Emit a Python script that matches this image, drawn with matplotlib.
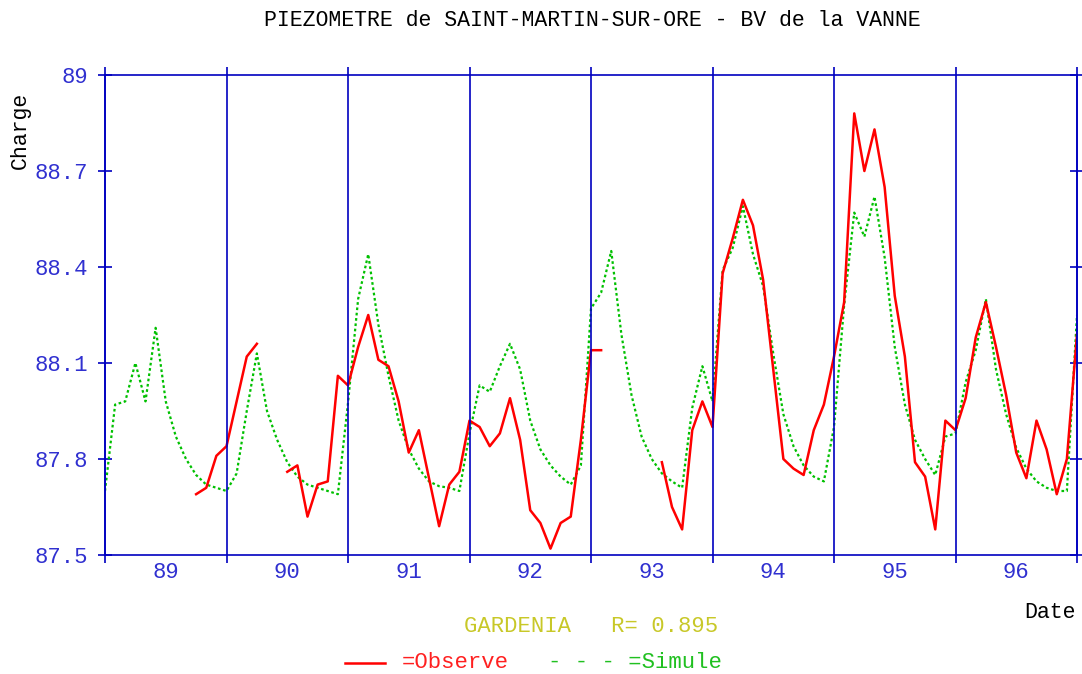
import matplotlib
matplotlib.use("Agg")
import matplotlib.pyplot as plt
import numpy as np

# mensuel, de janvier 89 a janvier 97
annee_debut = 89
observe = [
    np.nan, np.nan, np.nan, np.nan, np.nan, np.nan, np.nan, np.nan, np.nan, 87.69, 87.71, 87.81,
    87.84, 87.98, 88.12, 88.16, np.nan, np.nan, 87.76, 87.78, 87.62, 87.72, 87.73, 88.06,
    88.03, 88.15, 88.25, 88.11, 88.09, 87.98, 87.82, 87.89, 87.74, 87.59, 87.72, 87.76,
    87.92, 87.90, 87.84, 87.88, 87.99, 87.86, 87.64, 87.60, 87.52, 87.60, 87.62, 87.86,
    88.14, 88.14, np.nan, np.nan, np.nan, np.nan, np.nan, 87.79, 87.65, 87.58, 87.89, 87.98,
    87.90, 88.38, 88.49, 88.61, 88.53, 88.36, 88.08, 87.80, 87.77, 87.75, 87.89, 87.97,
    88.12, 88.29, 88.88, 88.70, 88.83, 88.65, 88.31, 88.12, 87.79, 87.745, 87.58, 87.92,
    87.89, 87.99, 88.18, 88.29, 88.15, 88.00, 87.82, 87.74, 87.92, 87.83, 87.69, 87.80,
    88.19,
]
simule = [
    87.70, 87.97, 87.98, 88.10, 87.98, 88.21, 87.98, 87.87, 87.80, 87.75, 87.72, 87.71,
    87.70, 87.755, 87.95, 88.13, 87.95, 87.86, 87.79, 87.745, 87.72, 87.71, 87.70, 87.69,
    87.975, 88.30, 88.44, 88.22, 88.06, 87.92, 87.83, 87.77, 87.73, 87.715, 87.71, 87.70,
    87.88, 88.03, 88.01, 88.09, 88.16, 88.08, 87.92, 87.83, 87.78, 87.745, 87.72, 87.78,
    88.27, 88.32, 88.45, 88.19, 88.00, 87.87, 87.80, 87.755, 87.73, 87.71, 87.96, 88.09,
    87.98, 88.39, 88.46, 88.59, 88.44, 88.34, 88.13, 87.94, 87.84, 87.78, 87.745, 87.73,
    87.90, 88.28, 88.57, 88.495, 88.62, 88.43, 88.15, 87.97, 87.86, 87.80, 87.75, 87.87,
    87.88, 88.04, 88.14, 88.30, 88.08, 87.94, 87.835, 87.77, 87.73, 87.71, 87.70, 87.70,
    88.25,
]
annees = [89, 90, 91, 92, 93, 94, 95, 96]
y_ticks = [87.5, 87.8, 88.1, 88.4, 88.7, 89.0]
y_labels = ["87.5", "87.8", "88.1", "88.4", "88.7", "89"]

police = "Liberation Mono"
bleu = "#0000c0"
bleu_txt = "#3030d0"

t = annee_debut + np.arange(len(simule)) / 12.0

fig = plt.figure(figsize=(10.82, 6.74), dpi=100)
ax = fig.add_axes([105 / 1082, 119 / 674, 972 / 1082, 480 / 674])

ax.plot(t, simule, color="#00c000", linestyle=(0, (1.2, 1.2)), linewidth=1.6)
ax.plot(t, observe, color="#ff0000", linewidth=1.8)

ax.set_xlim(89, 97)
ax.set_ylim(87.5, 89.0)

# traits verticaux aux changements d'annee (depassent un peu le cadre)
ax.vlines(np.arange(89, 98), 87.475, 89.025, colors=bleu, linewidth=1.2, clip_on=False)

for s in ax.spines.values():
    s.set_color(bleu)
    s.set_linewidth(1.2)

ax.set_xticks([a + 0.5 for a in annees])
ax.set_xticklabels([str(a) for a in annees], fontfamily=police, fontsize=16, color=bleu_txt)
ax.tick_params(axis="x", length=0, pad=5)

ax.set_yticks(y_ticks)
ax.set_yticklabels(y_labels, fontfamily=police, fontsize=16, color=bleu_txt)
ax.tick_params(axis="y", direction="inout", length=10, width=1.2, color=bleu,
               right=True, pad=7)

fig.text(592 / 1082, 1 - 20 / 674, "PIEZOMETRE de SAINT-MARTIN-SUR-ORE - BV de la VANNE",
         ha="center", va="center", fontfamily=police, fontsize=15.5, color="black")
fig.text(20 / 1082, 1 - 130 / 674, "Charge", rotation=90, ha="center", va="center",
         fontfamily=police, fontsize=15.5, color="black")
fig.text(1050 / 1082, 1 - 613 / 674, "Date", ha="center", va="center",
         fontfamily=police, fontsize=15.5, color="black")
fig.text(591 / 1082, 1 - 627 / 674, "GARDENIA   R= 0.895", ha="center", va="center",
         fontfamily=police, fontsize=16, color="#c8c828")

fig.add_artist(plt.Line2D([345 / 1082, 385 / 1082], [1 - 663 / 674, 1 - 663 / 674],
                          color="#ff0000", linewidth=1.8))
fig.text(402 / 1082, 1 - 663 / 674, "=Observe", ha="left", va="center",
         fontfamily=police, fontsize=16, color="#ff2020")
fig.text(548 / 1082, 1 - 663 / 674, "- - - =Simule", ha="left", va="center",
         fontfamily=police, fontsize=16, color="#20c020")

fig.savefig("out.png", dpi=100)
